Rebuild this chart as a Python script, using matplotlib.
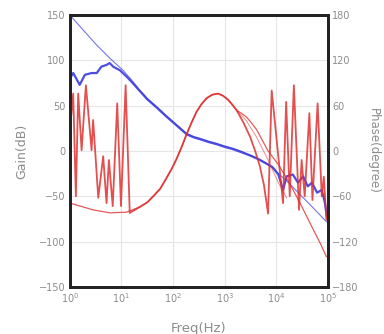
import matplotlib
matplotlib.use("Agg")
import matplotlib.pyplot as plt
import numpy as np

# log10(freq) and values
gain_model_lf = [0.0, 0.5, 0.78, 1.03, 1.2, 1.357, 1.5, 1.68, 1.85, 2.0, 2.13,
                 2.26, 2.4, 2.52, 2.68, 2.84, 3.0, 3.16, 3.33, 3.49, 3.65, 3.81,
                 3.93, 4.04, 4.2, 4.46, 4.7, 4.97]
gain_model = [150, 118, 102, 89, 78, 67, 58, 49, 40, 32.4, 26,
              19.5, 16, 14, 11, 8.5, 5.5, 3, -0.5, -4.4, -8.5, -13.6,
              -19, -25, -33, -48, -62, -78]

gain_meas_lf = [0.0, 0.064, 0.19, 0.29, 0.42, 0.52, 0.61, 0.71, 0.77, 0.84, 0.97,
                1.1, 1.2, 1.357, 1.5, 1.68, 1.85, 2.0, 2.13, 2.26, 2.4, 2.52,
                2.68, 2.84, 3.0, 3.16, 3.33, 3.49, 3.65, 3.81, 3.93, 4.04,
                4.13, 4.2, 4.32, 4.42, 4.52, 4.61, 4.69, 4.79, 4.88, 4.94, 4.98]
gain_meas = [80, 86, 73, 84, 86, 86, 93, 95, 97, 93, 89,
             82, 76, 66, 57, 48, 39, 31.5, 25, 18.5, 15, 13,
             10, 7.5, 4.5, 2, -1.5, -5, -9, -14, -18, -26,
             -43, -28, -26, -35, -28, -39, -35, -46, -43, -57, -72]

phase_model_lf = [0.0, 0.2, 0.45, 0.78, 1.1, 1.357, 1.5, 1.615, 1.75, 1.87, 1.97,
                  2.07, 2.17, 2.26, 2.36, 2.455, 2.55, 2.65, 2.76, 2.87, 2.97,
                  3.07, 3.15, 3.23, 3.32, 3.42, 3.52, 3.62, 3.73, 3.84, 3.94,
                  4.04, 4.25, 4.46, 4.7, 4.85, 4.97]
phase_model = [-69, -73, -78, -82, -81, -74, -68, -60, -50, -36, -24,
               -10, 6, 22, 38, 52, 62, 70, 74.5, 76, 73,
               67.5, 61, 54, 50, 45, 37, 28, 14, 0, -9,
               -18, -42, -69, -102, -122, -140]

phase_meas_lf = [0.0, 0.064, 0.116, 0.161, 0.227, 0.31, 0.42, 0.45, 0.55, 0.645,
                 0.71, 0.756, 0.83, 0.917, 0.99, 1.08, 1.16, 1.357, 1.5, 1.615,
                 1.75, 1.87, 1.97, 2.07, 2.17, 2.26, 2.36, 2.455, 2.55, 2.65,
                 2.76, 2.87, 2.97, 3.07, 3.15, 3.23, 3.36, 3.49, 3.59, 3.68,
                 3.76, 3.84, 3.91, 4.13, 4.19, 4.26, 4.34, 4.44, 4.49, 4.55,
                 4.64, 4.7, 4.8, 4.88, 4.92, 4.97]
phase_meas = [28, 76, -60, 76, 1, 87, 1, 41, -62, -7,
              -69, -12, -73, 63, -73, 87, -82, -74, -68, -60,
              -50, -36, -24, -10, 6, 22, 38, 52, 62, 70,
              74.5, 76, 73, 67.5, 61, 54, 38, 19, 0, -20,
              -45, -83, 80, -69, 65, -60, 87, -78, -12, -60,
              50, -65, 63, -60, -34, -91]

phase_alt_lf = [3.23, 3.42, 3.62, 3.84, 4.04, 4.2]
phase_alt = [54, 40, 18, -12, -42, -62]

fig = plt.figure(figsize=(3.84, 3.34), dpi=100)
ax = fig.add_axes([0.182, 0.141, 0.672, 0.814])
ax2 = ax.twinx()

blue = "#3a3ae0"
red = "#e03030"

ax.plot(10 ** np.array(gain_model_lf), gain_model, color=blue, lw=0.8, alpha=0.7)
ax.plot(10 ** np.array(gain_meas_lf), gain_meas, color=blue, lw=1.6, alpha=0.9)
ax2.plot(10 ** np.array(phase_model_lf), phase_model, color=red, lw=0.9, alpha=0.8)
ax2.plot(10 ** np.array(phase_alt_lf), phase_alt, color=red, lw=0.7, alpha=0.55)
ax2.plot(10 ** np.array(phase_meas_lf), phase_meas, color=red, lw=1.3, alpha=0.85)

ax.set_xscale("log")
ax.set_xlim(1, 1e5)
ax.set_ylim(-150, 150)
ax2.set_ylim(-180, 180)
ax.set_yticks(range(-150, 151, 50))
ax2.set_yticks(range(-180, 181, 60))
ax.set_xticks([1, 10, 100, 1e3, 1e4, 1e5])
ax.minorticks_off()
ax.grid(True, color="#e6e6e6", lw=0.8)
ax.set_axisbelow(True)

grey = "#8c8c8c"
for a in (ax, ax2):
    a.tick_params(length=0, labelsize=7, colors=grey, pad=3)
    for s in a.spines.values():
        s.set_linewidth(2)
        s.set_color("#222222")

ax.set_xlabel("Freq(Hz)", fontsize=9.5, color=grey, labelpad=12)
ax.set_ylabel("Gain(dB)", fontsize=9, color=grey, labelpad=8)
ax2.set_ylabel("Phase(degree)", fontsize=8.5, color=grey, rotation=270, labelpad=15)

plt.savefig("out.png", dpi=100)
